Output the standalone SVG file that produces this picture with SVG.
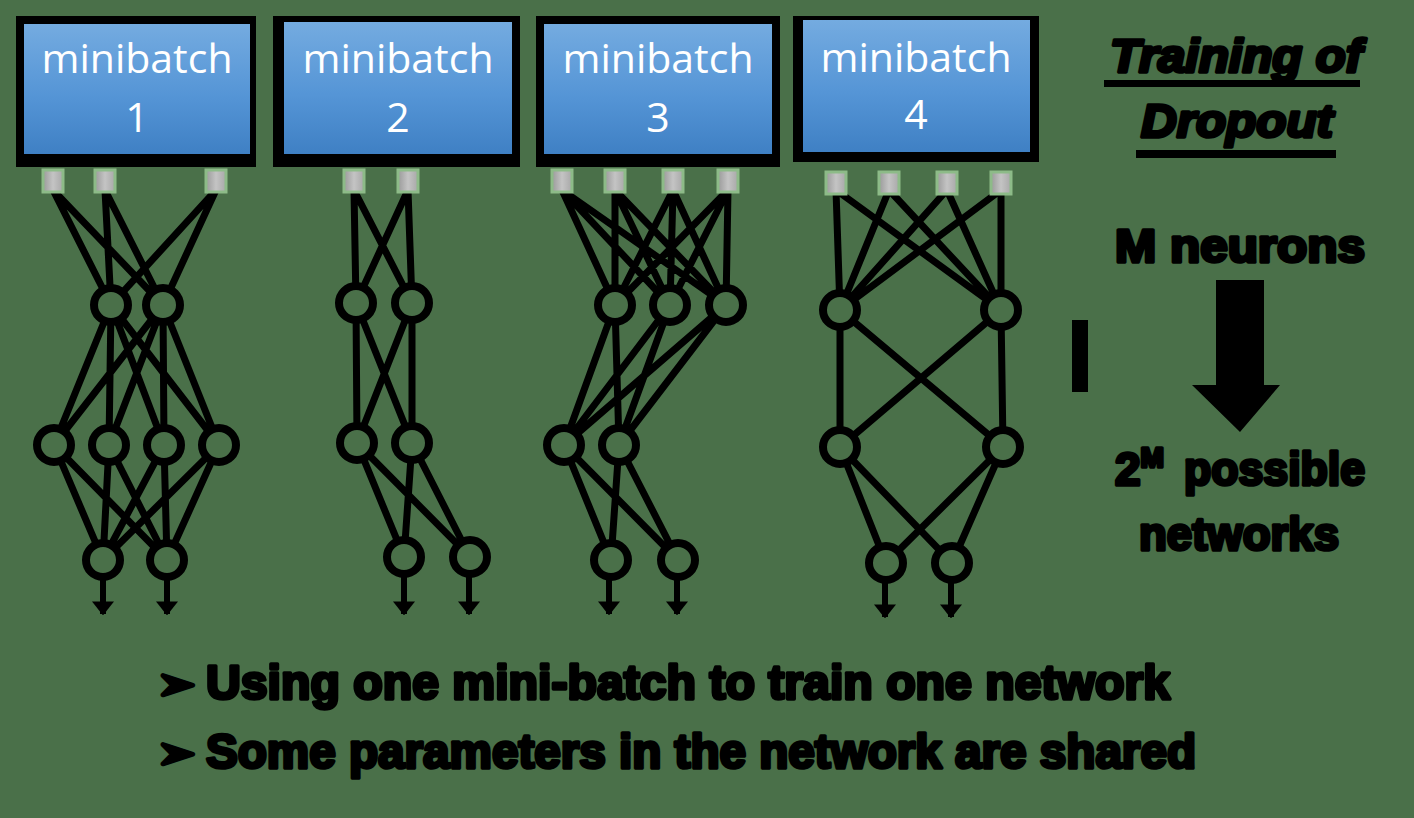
<svg xmlns="http://www.w3.org/2000/svg" width="1414" height="818" viewBox="0 0 1414 818">
<defs>
<linearGradient id="blue" x1="0" y1="0" x2="0" y2="1">
<stop offset="0" stop-color="#74abe0"/>
<stop offset="0.55" stop-color="#5595d6"/>
<stop offset="1" stop-color="#3f80c4"/>
</linearGradient>
<linearGradient id="gray" x1="0" y1="0" x2="1" y2="0">
<stop offset="0" stop-color="#9a9a9a"/>
<stop offset="0.5" stop-color="#c4c4c4"/>
<stop offset="1" stop-color="#a8a8a8"/>
</linearGradient>
<marker id="ah" viewBox="0 0 10 10" refX="9" refY="5" markerWidth="14" markerHeight="22" markerUnits="userSpaceOnUse" orient="auto" preserveAspectRatio="none">
<path d="M0 0 L10 5 L0 10 Z" fill="#000"/>
</marker>
<style>
.outer{fill:#000}
.inner{fill:url(#blue)}
.lbl{font-family:"Open Sans","Noto Sans",sans-serif;font-size:41px;fill:#fff;text-anchor:middle}
.inp{fill:url(#gray);stroke:#8dbb88;stroke-width:3}
.edge{fill:none;stroke:#000;stroke-width:7;stroke-linecap:round}
.neu{fill:#4a7049;stroke:#000;stroke-width:8}
.out{stroke:#000;stroke-width:6;fill:none}
.big{font-family:"Liberation Sans",Arial,sans-serif;font-weight:bold;fill:#000;stroke:#000;stroke-width:3.5;stroke-linejoin:round}
</style>
</defs>
<rect width="1414" height="818" fill="#4a7049"/>

<g id="connectors">
<!-- network 1 -->
<path class="edge" d="M53 190L111 305M53 190L163 305M105 190L111 305M105 190L163 305M216 190L111 305M216 190L163 305"/>
<path class="edge" d="M111 305L54 445M111 305L109 445M111 305L164 445M111 305L219 445M163 305L54 445M163 305L109 445M163 305L164 445M163 305L219 445"/>
<path class="edge" d="M54 445L103 560M54 445L167 560M109 445L103 560M109 445L167 560M164 445L103 560M164 445L167 560M219 445L103 560M219 445L167 560"/>
<line class="out" x1="103" y1="578" x2="103" y2="614" marker-end="url(#ah)"/>
<line class="out" x1="167" y1="578" x2="167" y2="614" marker-end="url(#ah)"/>
<!-- network 2 -->
<path class="edge" d="M354 190L356 303M354 190L412 303M408 190L356 303M408 190L412 303"/>
<path class="edge" d="M356 303L357 443M356 303L412 443M412 303L357 443M412 303L412 443"/>
<path class="edge" d="M357 443L404 557M357 443L470 557M412 443L404 557M412 443L470 557"/>
<line class="out" x1="404" y1="575" x2="404" y2="614" marker-end="url(#ah)"/>
<line class="out" x1="469" y1="575" x2="469" y2="614" marker-end="url(#ah)"/>
<!-- network 3 -->
<path class="edge" d="M562 190L615 305M562 190L670 305M562 190L726 305M615 190L615 305M615 190L670 305M615 190L726 305M673 190L615 305M673 190L670 305M673 190L726 305M728 190L615 305M728 190L670 305M728 190L726 305"/>
<path class="edge" d="M615 305L564 445M615 305L619 445M670 305L564 445M670 305L619 445M726 305L564 445M726 305L619 445"/>
<path class="edge" d="M564 445L611 560M564 445L678 560M619 445L611 560M619 445L678 560"/>
<line class="out" x1="609" y1="578" x2="609" y2="614" marker-end="url(#ah)"/>
<line class="out" x1="677" y1="578" x2="677" y2="614" marker-end="url(#ah)"/>
<!-- network 4 -->
<path class="edge" d="M836 190L840 310M836 190L1001 310M889 190L840 310M889 190L1001 310M947 190L840 310M947 190L1001 310M1001 190L840 310M1001 190L1001 310"/>
<path class="edge" d="M840 310L840 447M840 310L1003 447M1001 310L840 447M1001 310L1003 447"/>
<path class="edge" d="M840 447L886 563M840 447L952 563M1003 447L886 563M1003 447L952 563"/>
<line class="out" x1="885" y1="581" x2="885" y2="617" marker-end="url(#ah)"/>
<line class="out" x1="951" y1="581" x2="951" y2="617" marker-end="url(#ah)"/>
</g>

<g id="minibatch1">
<rect class="outer" x="16" y="16" width="240" height="151"/>
<rect class="inner" x="24" y="24" width="226" height="130"/>
<text class="lbl" x="137" y="73">minibatch</text>
<text class="lbl" x="137" y="132">1</text>
</g>
<g id="minibatch2">
<rect class="outer" x="273" y="16" width="247" height="151"/>
<rect class="inner" x="284" y="22" width="228" height="132"/>
<text class="lbl" x="398" y="73">minibatch</text>
<text class="lbl" x="398" y="132">2</text>
</g>
<g id="minibatch3">
<rect class="outer" x="536" y="16" width="244" height="151"/>
<rect class="inner" x="544" y="24" width="228" height="130"/>
<text class="lbl" x="658" y="73">minibatch</text>
<text class="lbl" x="658" y="132">3</text>
</g>
<g id="minibatch4">
<rect class="outer" x="793" y="16" width="246" height="146"/>
<rect class="inner" x="803" y="20" width="227" height="132"/>
<text class="lbl" x="916" y="72">minibatch</text>
<text class="lbl" x="916" y="129">4</text>
</g>

<g id="inputs">
<rect class="inp" x="43" y="170" width="20" height="22"/>
<rect class="inp" x="95" y="170" width="20" height="22"/>
<rect class="inp" x="206" y="170" width="20" height="22"/>
<rect class="inp" x="344" y="170" width="20" height="22"/>
<rect class="inp" x="398" y="170" width="20" height="22"/>
<rect class="inp" x="552" y="170" width="20" height="22"/>
<rect class="inp" x="605" y="170" width="20" height="22"/>
<rect class="inp" x="663" y="170" width="20" height="22"/>
<rect class="inp" x="718" y="170" width="20" height="22"/>
<rect class="inp" x="826" y="172" width="20" height="22"/>
<rect class="inp" x="879" y="172" width="20" height="22"/>
<rect class="inp" x="937" y="172" width="20" height="22"/>
<rect class="inp" x="991" y="172" width="20" height="22"/>
</g>

<g id="net1-neurons">
<g id="n1h1a"><circle class="neu" cx="111" cy="305" r="17"/></g>
<g id="n1h1b"><circle class="neu" cx="163" cy="305" r="17"/></g>
<g id="n1h2a"><circle class="neu" cx="54" cy="445" r="17"/></g>
<g id="n1h2b"><circle class="neu" cx="109" cy="445" r="17"/></g>
<g id="n1h2c"><circle class="neu" cx="164" cy="445" r="17"/></g>
<g id="n1h2d"><circle class="neu" cx="219" cy="445" r="17"/></g>
<g id="n1oa"><circle class="neu" cx="103" cy="560" r="17"/></g>
<g id="n1ob"><circle class="neu" cx="167" cy="560" r="17"/></g>
</g>
<g id="net2-neurons">
<g id="n2h1a"><circle class="neu" cx="356" cy="303" r="17"/></g>
<g id="n2h1b"><circle class="neu" cx="412" cy="303" r="17"/></g>
<g id="n2h2a"><circle class="neu" cx="357" cy="443" r="17"/></g>
<g id="n2h2b"><circle class="neu" cx="412" cy="443" r="17"/></g>
<g id="n2oa"><circle class="neu" cx="404" cy="557" r="17"/></g>
<g id="n2ob"><circle class="neu" cx="470" cy="557" r="17"/></g>
</g>
<g id="net3-neurons">
<g id="n3h1a"><circle class="neu" cx="615" cy="305" r="17"/></g>
<g id="n3h1b"><circle class="neu" cx="670" cy="305" r="17"/></g>
<g id="n3h1c"><circle class="neu" cx="726" cy="305" r="17"/></g>
<g id="n3h2a"><circle class="neu" cx="564" cy="445" r="17"/></g>
<g id="n3h2b"><circle class="neu" cx="619" cy="445" r="17"/></g>
<g id="n3oa"><circle class="neu" cx="611" cy="560" r="17"/></g>
<g id="n3ob"><circle class="neu" cx="678" cy="560" r="17"/></g>
</g>
<g id="net4-neurons">
<g id="n4h1a"><circle class="neu" cx="840" cy="310" r="17"/></g>
<g id="n4h1b"><circle class="neu" cx="1001" cy="310" r="17"/></g>
<g id="n4h2a"><circle class="neu" cx="840" cy="447" r="17"/></g>
<g id="n4h2b"><circle class="neu" cx="1003" cy="447" r="17"/></g>
<g id="n4oa"><circle class="neu" cx="886" cy="563" r="17"/></g>
<g id="n4ob"><circle class="neu" cx="952" cy="563" r="17"/></g>
</g>

<g id="dots">
<rect x="1072" y="320" width="16" height="72" fill="#000"/>
</g>

<g id="title">
<text class="big" x="1110" y="72" font-size="46" font-style="italic" textLength="252" lengthAdjust="spacingAndGlyphs">Training of</text>
<rect x="1104" y="80" width="256" height="7" fill="#000"/>
<text class="big" x="1141" y="137" font-size="46" font-style="italic" textLength="192" lengthAdjust="spacingAndGlyphs">Dropout</text>
<rect x="1136" y="150" width="200" height="8" fill="#000"/>
</g>

<g id="mneurons">
<text class="big" x="1115" y="262" font-size="46" textLength="250" lengthAdjust="spacingAndGlyphs">M neurons</text>
</g>

<g id="bigarrow">
<path d="M1216 280 L1264 280 L1264 385 L1280 385 L1240 432 L1192 385 L1216 385 Z" fill="#000"/>
</g>

<g id="possible">
<text class="big" x="1115" y="485" font-size="46">2<tspan font-size="28" dy="-18">M</tspan><tspan dy="18" x="1184" textLength="181" lengthAdjust="spacingAndGlyphs">possible</tspan></text>
<text class="big" x="1139" y="550" font-size="46" textLength="200" lengthAdjust="spacingAndGlyphs">networks</text>
</g>

<g id="bullets">
<text class="big" x="158" y="699" font-size="44" font-family="DejaVu Sans" stroke-width="2">➢</text>
<text class="big" x="206" y="699" font-size="48" textLength="964" lengthAdjust="spacingAndGlyphs">Using one mini-batch to train one network</text>
<text class="big" x="158" y="768" font-size="44" font-family="DejaVu Sans" stroke-width="2">➢</text>
<text class="big" x="206" y="768" font-size="48" textLength="990" lengthAdjust="spacingAndGlyphs">Some parameters in the network are shared</text>
</g>
</svg>
